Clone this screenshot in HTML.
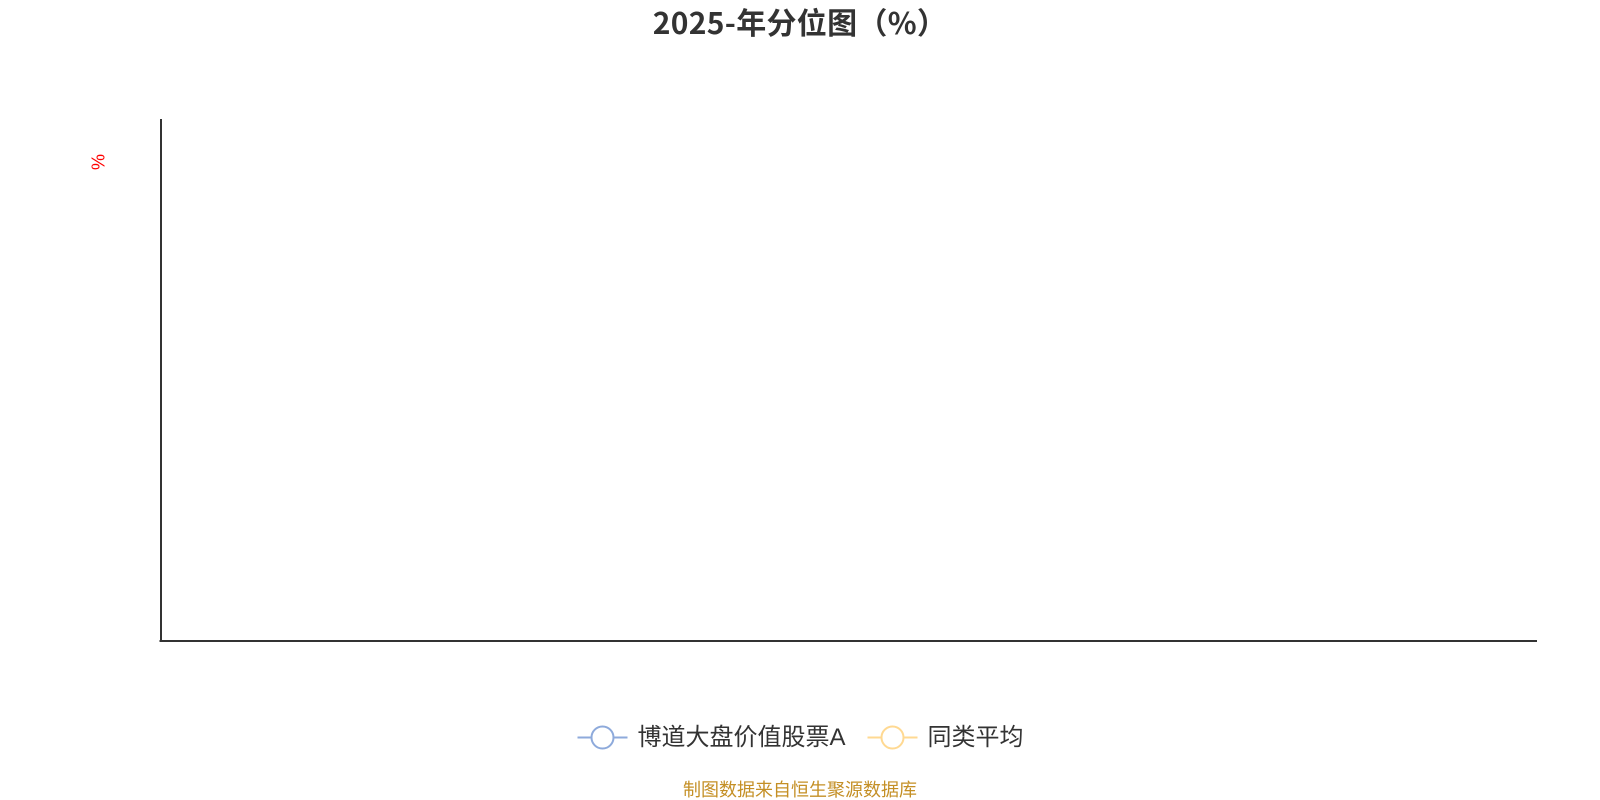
<!DOCTYPE html>
<html lang="zh">
<head>
<meta charset="utf-8">
<style>
html,body{margin:0;padding:0;background:#fff;width:1600px;height:800px;overflow:hidden}
svg{display:block}
text{font-family:"Liberation Sans","WenQuanYi Zen Hei","Noto Sans CJK SC",sans-serif}
</style>
</head>
<body>
<svg width="1600" height="800" viewBox="0 0 1600 800" xmlns="http://www.w3.org/2000/svg">
<rect width="1600" height="800" fill="#fff"/>
<text x="800" y="34" text-anchor="middle" font-size="30" font-weight="700" fill="#333" letter-spacing="0.3" style="font-family:'Noto Sans CJK SC',sans-serif">2025-年分位图（%）</text>
<text transform="translate(104.500,162) rotate(-90)" text-anchor="middle" font-size="18" fill="#f00">%</text>
<line x1="161" y1="119" x2="161" y2="642" stroke="#333" stroke-width="2"/>
<line x1="159.500" y1="641" x2="1537" y2="641" stroke="#333" stroke-width="2"/>
<line x1="577.500" y1="737.500" x2="627.500" y2="737.500" stroke="#8eaadb" stroke-width="2"/>
<circle cx="602.500" cy="737.500" r="11" fill="#fff" stroke="#8eaadb" stroke-width="2"/>
<text x="637.500" y="745" font-size="24" fill="#333">博道大盘价值股票A</text>
<line x1="867.500" y1="737.500" x2="917.500" y2="737.500" stroke="#ffd992" stroke-width="2"/>
<circle cx="892.500" cy="737.500" r="11" fill="#fff" stroke="#ffd992" stroke-width="2"/>
<text x="927.500" y="745" font-size="24" fill="#333">同类平均</text>
<text x="800" y="796" text-anchor="middle" font-size="18" fill="#c48f25">制图数据来自恒生聚源数据库</text>
</svg>
</body>
</html>
